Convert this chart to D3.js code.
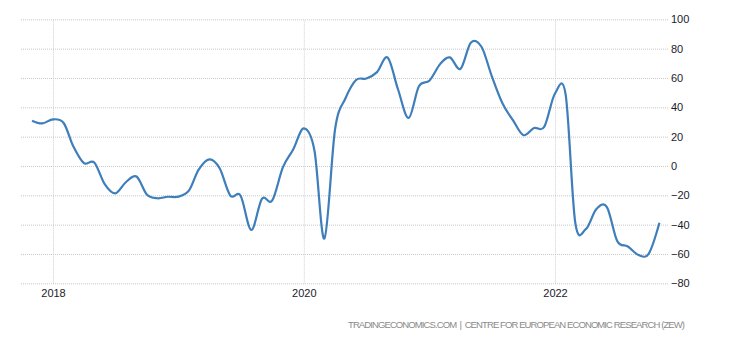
<!DOCTYPE html>
<html>
<head>
<meta charset="utf-8">
<script src="https://cdn.jsdelivr.net/npm/d3@7/dist/d3.min.js"></script>
<style>
  html, body { margin: 0; padding: 0; background: #fff; }
  svg { display: block; }
  text { font-family: "Liberation Sans", Arial, sans-serif; }
</style>
</head>
<body>
<svg id="chart" width="730" height="340"></svg>
<script>
// ZEW economic sentiment, monthly, Nov 2017 – Nov 2022
const startMonth = [2017, 10]; // year, zero-based month of first value
const values = [
  30.9, 29.0,
  31.8, 29.3, 13.4, 1.9, 2.4, -12.6, -18.7, -11.1, -7.2, -19.4, -22.0, -21.0,
  -20.9, -16.6, -2.5, 4.5, -1.6, -20.2, -20.3, -43.6, -22.4, -23.5, -1.0, 11.2,
  25.6, 10.4, -49.5, 25.2, 46.0, 58.6, 59.6, 64.0, 73.9, 52.3, 32.8, 54.4,
  58.3, 69.6, 74.0, 66.3, 84.0, 81.3, 61.2, 42.7, 31.1, 21.0, 25.9, 26.8,
  49.4, 48.6, -38.7, -43.0, -29.5, -28.0, -51.1, -54.9, -60.7, -59.7, -38.7
];
const yTicks = [100, 80, 60, 40, 20, 0, -20, -40, -60, -80];
const xTickYears = [2018, 2020, 2022];
const sourceText = "TRADINGECONOMICS.COM\u00A0\u00A0|\u00A0\u00A0CENTRE FOR EUROPEAN ECONOMIC RESEARCH (ZEW)";

const data = values.map((v, i) => ({
  date: new Date(startMonth[0], startMonth[1] + i, 1),
  value: v
}));

const svg = d3.select("#chart");
const plot = { left: 20, right: 668, top: 19.3, bottom: 283.3 };

const x = d3.scaleTime()
  .domain([new Date(2018, 0, 1), new Date(2022, 0, 1)])
  .range([53, 555]);

const y = d3.scaleLinear()
  .domain([-80, 100])
  .range([plot.bottom, plot.top]);

// horizontal grid + right-side labels
const yAxis = d3.axisRight(y)
  .tickValues(yTicks)
  .tickSize(-(plot.right - plot.left))
  .tickPadding(3)
  .tickFormat(d3.format("d"));

const gy = svg.append("g")
  .attr("transform", `translate(${plot.right},0)`)
  .call(yAxis);
gy.select(".domain").remove();
gy.selectAll(".tick line")
  .attr("stroke", "#c8c8c8")
  .attr("stroke-dasharray", "1,1");
gy.selectAll(".tick text")
  .attr("fill", "#1a1a2a")
  .attr("font-size", 11);

// vertical grid at year marks + bottom labels
const xAxis = d3.axisBottom(x)
  .tickValues(xTickYears.map(yr => new Date(yr, 0, 1)))
  .tickSize(-(plot.bottom - plot.top))
  .tickPadding(6)
  .tickFormat(d3.timeFormat("%Y"));

const gx = svg.append("g")
  .attr("transform", `translate(0,${plot.bottom})`)
  .call(xAxis);
gx.select(".domain").remove();
gx.selectAll(".tick line")
  .attr("stroke", "#d0d0d0")
  .attr("stroke-dasharray", "1,1");
gx.selectAll(".tick text")
  .attr("fill", "#1a1a2a")
  .attr("font-size", 11);

// series line
const line = d3.line()
  .x(d => x(d.date))
  .y(d => y(d.value))
  .curve(d3.curveCardinal.tension(0));

svg.append("path")
  .datum(data)
  .attr("fill", "none")
  .attr("stroke", "#3d7ebb")
  .attr("stroke-width", 2.2)
  .attr("stroke-linejoin", "round")
  .attr("d", line);

// source line
svg.append("text")
  .attr("x", 685)
  .attr("y", 328)
  .attr("text-anchor", "end")
  .attr("font-size", 9.5)
  .attr("fill", "#8a8a8a")
  .attr("textLength", 337)
  .attr("lengthAdjust", "spacing")
  .text(sourceText);
</script>
</body>
</html>
